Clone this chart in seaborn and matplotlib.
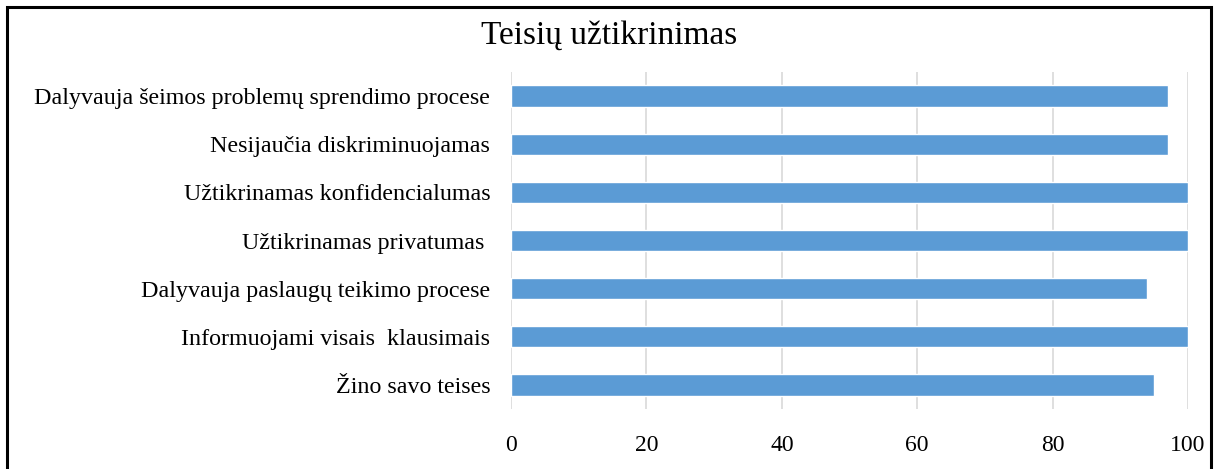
import pandas as pd
import matplotlib.pyplot as plt
import seaborn as sns
from matplotlib.patches import Rectangle

# Data
categories = [
    "Dalyvauja šeimos problemų sprendimo procese",
    "Nesijaučia diskriminuojamas",
    "Užtikrinamas konfidencialumas",
    "Užtikrinamas privatumas ",
    "Dalyvauja paslaugų teikimo procese",
    "Informuojami visais  klausimais",
    "Žino savo teises",
]
values = [97, 97, 100, 100, 94, 100, 95]
xticks = [0, 20, 40, 60, 80, 100]

df = pd.DataFrame({"Kategorija": categories, "Reikšmė": values})

sns.set_style("white")
plt.rcParams["font.family"] = ["Liberation Serif", "DejaVu Serif"]
plt.rcParams["text.color"] = "black"
plt.rcParams["xtick.color"] = "black"
plt.rcParams["ytick.color"] = "black"

fig = plt.figure(figsize=(12.19, 4.69), dpi=100)
ax = fig.add_axes([0.4192, 0.1279, 0.5554, 0.7186])

sns.barplot(data=df, x="Reikšmė", y="Kategorija", orient="h",
            color="#5B9BD5", saturation=1, width=0.44, ax=ax, zorder=2)

ax.set_xlim(0, 100)
ax.set_xticks(xticks)
ax.set_xticklabels([str(t) for t in xticks])
ax.set_xlabel("")
ax.set_ylabel("")
ax.grid(axis="x", color="#d9d9d9", linewidth=1.2, zorder=0)
ax.grid(axis="y", visible=False)
for s in ax.spines.values():
    s.set_visible(False)
ax.tick_params(axis="y", length=0, pad=15, labelsize=17.3, labelcolor="black")
ax.tick_params(axis="x", length=0, pad=19, labelsize=17, labelcolor="black")

fig.text(0.5, 0.925, "Teisių užtikrinimas", ha="center", va="center",
         fontsize=24, color="black")

# outer frame (cropped at the bottom)
fig.patches.append(Rectangle((7 / 1219, -0.1), (1211 - 7) / 1219, 1.1 - 7 / 469,
                             transform=fig.transFigure, fill=False,
                             edgecolor="black", linewidth=2.2, clip_on=False))

fig.savefig("out.png", dpi=100)
